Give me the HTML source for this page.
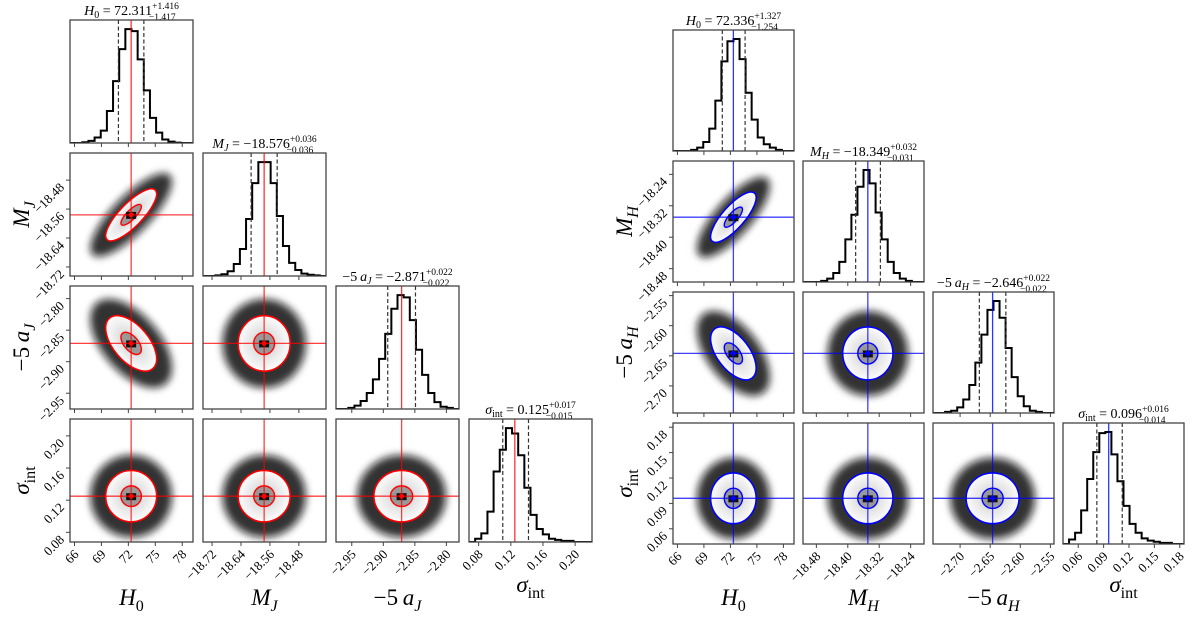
<!DOCTYPE html>
<html><head><meta charset="utf-8"><style>
html,body{margin:0;padding:0;background:#fff;}
svg{display:block;font-family:"Liberation Serif",serif;}
</style></head><body>
<svg id="chart" width="1200" height="625" viewBox="0 0 1200 625" xmlns="http://www.w3.org/2000/svg">
<defs>
<filter id="blur" x="-50%" y="-50%" width="200%" height="200%"><feGaussianBlur stdDeviation="4"/></filter>
<radialGradient id="core"><stop offset="0" stop-color="#aaa"/><stop offset="0.5" stop-color="#e4e4e4"/><stop offset="1" stop-color="#fcfcfc"/></radialGradient>
</defs>
</svg>
<script>
// ---- data (left corner: J band) ----
const leftMedian = [72.311, -18.576, -2.871, 0.125];
const leftErrPlus = ['1.416','0.036','0.022','0.017'];
const leftErrMinus = ['1.417','0.036','0.022','0.015'];
const leftSd = [1.42, 0.036, 0.022, 0.016];
const leftLo = [65.5, -18.745, -2.975, 0.068];
const leftHi = [79.2, -18.405, -2.78, 0.221];
const leftTicks = [[66,69,72,75,78],[-18.72,-18.64,-18.56,-18.48],[-2.95,-2.90,-2.85,-2.80],[0.08,0.12,0.16,0.20]];
const leftTickText = [['66','69','72','75','78'],['−18.72','−18.64','−18.56','−18.48'],['−2.95','−2.90','−2.85','−2.80'],['0.08','0.12','0.16','0.20']];
const leftCorr = [[1,0.8,-0.55,0],[0.8,1,0,0],[-0.55,0,1,0],[0,0,0,1]];
const leftHistH0 = [0,0,2,6,16,36,93,180,273,331,325,243,153,73,30,10,4,1,0,0];
const leftHistM = [0,0,1,3,8,20,45,95,155,190,190,155,100,50,22,10,4,2,1,0];
const leftHistA = [0,0,1,3,7,14,26,44,66,88,100,98,78,52,30,14,6,2,1,0];
const leftHistS = [0,3,8,28,65,85,105,100,80,50,25,12,7,3,2,1,1,0,0,0];
// ---- data (right corner: H band) ----
const rightMedian = [72.336, -18.349, -2.646, 0.096];
const rightErrPlus = ['1.327','0.032','0.022','0.016'];
const rightErrMinus = ['1.254','0.031','0.022','0.014'];
const rightSd = [1.29, 0.032, 0.022, 0.015];
const rightLo = [65.5, -18.514, -2.745, 0.042];
const rightHi = [79.2, -18.206, -2.544, 0.185];
const rightTicks = [[66,69,72,75,78],[-18.48,-18.40,-18.32,-18.24],[-2.70,-2.65,-2.60,-2.55],[0.06,0.09,0.12,0.15,0.18]];
const rightTickText = [['66','69','72','75','78'],['−18.48','−18.40','−18.32','−18.24'],['−2.70','−2.65','−2.60','−2.55'],['0.06','0.09','0.12','0.15','0.18']];
const rightCorr = [[1,0.78,-0.55,0],[0.78,1,0,0],[-0.55,0,1,0],[0,0,0,1]];
const rightHistH0 = [0,0,0,1,3,8,20,45,80,98,100,82,52,28,12,6,3,1,0,0];
const rightHistM = [0,0,0,1,3,8,18,38,60,85,100,88,62,38,18,8,3,1,0,0];
const rightHistA = [0,0,1,2,5,12,25,45,70,92,100,85,58,32,15,6,2,1,0,0];
const rightHistS = [0,4,10,30,58,82,99,100,80,56,34,18,10,5,3,2,1,1,0,0];

const NS='http://www.w3.org/2000/svg';
const svg=document.getElementById('chart');
function mk(tag,attrs,parent){const e=document.createElementNS(NS,tag);for(const k in attrs)e.setAttribute(k,attrs[k]);(parent||svg).appendChild(e);return e;}

const corners=[
 {cols:[70,203,336,469],rows:[20,153,286,419],size:123,color:'#ff0000',med:leftMedian,ep:leftErrPlus,em:leftErrMinus,sd:leftSd,lo:leftLo,hi:leftHi,ticks:leftTicks,tt:leftTickText,corr:leftCorr,hist:[leftHistH0,leftHistM,leftHistA,leftHistS],
  names:['H','M','−5\u2009a','σ'],subs:['0','J','J','int'],side:'left',ylabX:22,botY:[605,605,605,592]},
 {cols:[673,803,933,1063],rows:[30,161,292,423],size:121,color:'#0000ff',med:rightMedian,ep:rightErrPlus,em:rightErrMinus,sd:rightSd,lo:rightLo,hi:rightHi,ticks:rightTicks,tt:rightTickText,corr:rightCorr,hist:[rightHistH0,rightHistM,rightHistA,rightHistS],
  names:['H','M','−5\u2009a','σ'],subs:['0','H','H','int'],side:'right',ylabX:625,botY:[605,605,605,592]}
];

function label(g,x,y,i,c,size,anchor,rot){
  const t=mk('text',{x:x,y:y,'font-size':size,'text-anchor':anchor||'middle'},g);
  if(rot)t.setAttribute('transform',rot);
  const nm=c.names[i];
  if(nm.startsWith('−5')){const a=mk('tspan',{},t);a.textContent='−5\u2009';const b=mk('tspan',{'font-style':'italic'},t);b.textContent='a';}
  else{const a=mk('tspan',{'font-style':'italic'},t);a.textContent=nm;}
  const sub=c.subs[i];
  const s=mk('tspan',{'font-size':size*0.7,dy:size*0.25,'font-style':(sub==='int'||sub==='0')?'normal':'italic'},t);s.textContent=sub;
  return t;
}

corners.forEach((c,ci)=>{
  const S=c.size;
  const sx=(j,v)=>c.cols[j]+(v-c.lo[j])/(c.hi[j]-c.lo[j])*S;
  const sy=(i,v)=>c.rows[i]+S-(v-c.lo[i])/(c.hi[i]-c.lo[i])*S;
  for(let i=0;i<4;i++){
    for(let j=0;j<=i;j++){
      const g=mk('g',{});
      
      
      const x0=c.cols[j],y0=c.rows[i];
      const clipId='clip'+ci+i+j;
      const cp=mk('clipPath',{id:clipId},g);mk('rect',{x:x0,y:y0,width:S,height:S},cp);
      const inner=mk('g',{'clip-path':'url(#'+clipId+')'},g);
      if(i===j){
        const h=c.hist[i];const n=h.length;const mx=Math.max(...h)*1.08;
        let d='';
        h.forEach((v,k)=>{
          const xa=x0+k/n*S,xb=x0+(k+1)/n*S,yy=y0+S-v/mx*S;
          d+=(k===0?'M'+xa+','+yy:'L'+xa+','+yy)+'L'+xb+','+yy;
        });
        const p=mk('path',{d:d,fill:'none',stroke:'#000','stroke-width':2},inner);
        
        const m=c.med[i];
        [m-parseFloat(c.em[i]),m+parseFloat(c.ep[i])].forEach(q=>{
          const l=mk('line',{x1:sx(j,q),x2:sx(j,q),y1:y0,y2:y0+S,stroke:'#333','stroke-width':1.2,'stroke-dasharray':'4,2.5'},inner);
          
        });
        const ml=mk('line',{x1:sx(j,m),x2:sx(j,m),y1:y0,y2:y0+S,stroke:c.color,'stroke-width':1.3,'stroke-opacity':0.8},inner);
        
        const t=mk('text',{x:x0+S/2,y:y0-5,'font-size':14,'text-anchor':'middle'},g);
        
        const nm=c.names[i];
        if(nm.startsWith('−5')){const a=mk('tspan',{},t);a.textContent='−5\u2009';const b=mk('tspan',{'font-style':'italic'},t);b.textContent='a';}
        else{const a=mk('tspan',{'font-style':'italic'},t);a.textContent=nm;}
        const sub=c.subs[i];
        const s=mk('tspan',{'font-size':10,dy:3,'font-style':(sub==='int'||sub==='0')?'normal':'italic'},t);s.textContent=sub;
        const eq=mk('tspan',{dy:-3},t);eq.textContent=' = '+(c.med[i]<0?'−':'')+Math.abs(c.med[i]).toFixed(3);
        const sp=mk('tspan',{'font-size':9.5,dy:-6},t);sp.textContent='+'+c.ep[i];
        const w=c.ep[i].length*4.9+5.5;
        const sm=mk('tspan',{'font-size':9.5,dx:-w,dy:11},t);sm.textContent='−'+c.em[i];
      } else {
        const cx=sx(j,c.med[j]),cy=sy(i,c.med[i]);
        const px=c.sd[j]*S/(c.hi[j]-c.lo[j]),py=c.sd[i]*S/(c.hi[i]-c.lo[i]);
        const r=c.corr[i][j];
        const a=px*px,cc=py*py,b=-r*px*py;
        const th=0.5*Math.atan2(2*b,a-cc)*180/Math.PI;
        const tr=Math.sqrt(((a-cc)/2)**2+b*b);
        const l1=Math.sqrt((a+cc)/2+tr),l2=Math.sqrt(Math.max((a+cc)/2-tr,0.01));
        const rot='rotate('+th+' '+cx+' '+cy+')';
        const cl=mk('ellipse',{cx:cx,cy:cy,rx:l1*3.2,ry:l2*3.2,fill:'#111','fill-opacity':0.85,filter:'url(#blur)',transform:rot},inner);
        
        const o=mk('ellipse',{cx:cx,cy:cy,rx:l1*2,ry:l2*2,fill:'url(#core)',stroke:c.color,'stroke-width':1.6,transform:rot},inner);
        
        const ie=mk('ellipse',{cx:cx,cy:cy,rx:l1*0.8,ry:l2*0.8,fill:'#999',stroke:c.color,'stroke-width':1.4,transform:rot},inner);
        
        mk('rect',{x:cx-5,y:cy-3,width:10,height:7,fill:'#111'},inner);
        const lh=mk('line',{x1:x0,x2:x0+S,y1:cy,y2:cy,stroke:c.color,'stroke-width':1.3,'stroke-opacity':0.75},inner);
        
        const lv=mk('line',{x1:cx,x2:cx,y1:y0,y2:y0+S,stroke:c.color,'stroke-width':1.3,'stroke-opacity':0.75},inner);
        
        const dot=mk('circle',{cx:cx,cy:cy,r:2.5,fill:c.color},inner);
        
      }
      const fr=mk('rect',{x:x0,y:y0,width:S,height:S,fill:'none',stroke:'#444','stroke-width':1.3},g);
      
      c.ticks[j].forEach((v,k)=>{
        const x=sx(j,v);
        mk('line',{x1:x,x2:x,y1:y0+S,y2:y0+S+4,stroke:'#444','stroke-width':1},g);
        if(i===3){
          const tx=mk('text',{x:x+5,y:y0+S+13,'font-size':13,'text-anchor':'end',transform:'rotate(-45 '+(x+5)+' '+(y0+S+13)+')'},g);
          
          tx.textContent=c.tt[j][k];
        }
      });
      if(j===0&&i>0){
        c.ticks[i].forEach((v,k)=>{
          const y=sy(i,v);
          mk('line',{x1:x0-4,x2:x0,y1:y,y2:y,stroke:'#444','stroke-width':1},g);
          const ty=mk('text',{x:x0-5,y:y+8,'font-size':13,'text-anchor':'end',transform:'rotate(-45 '+(x0-5)+' '+(y+8)+')'},g);
          
          ty.textContent=c.tt[i][k];
        });
      }
    }
    const bl=label(svg,c.cols[i]+S/2,c.botY[i],i,c,23,'middle');
    
    if(i>0){
      const yc=c.rows[i]+S/2;
      const yl=label(svg,c.ylabX,yc+7,i,c,23,'middle','rotate(-90 '+c.ylabX+' '+yc+')');
      
    }
  }
});
</script>
</body></html>
